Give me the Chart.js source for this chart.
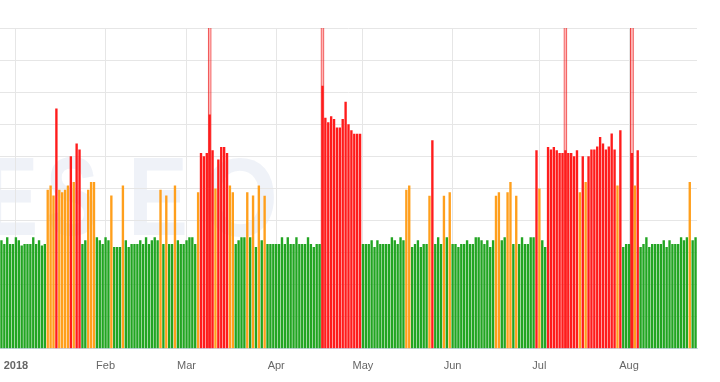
<!DOCTYPE html>
<html>
<head>
<meta charset="utf-8">
<script src="https://cdn.jsdelivr.net/npm/chart.js@4.4.0/dist/chart.umd.min.js"></script>
<style>
  html, body { margin: 0; padding: 0; background: #fff; }
</style>
</head>
<body>
<canvas id="chart" width="720" height="382"></canvas>
<script>
const GREEN = "#22a522";
const ORANGE = "#ff9f1c";
const RED = "#ff1c1c";

// first day shown, one bar per day
const START_DAY = Date.UTC(2017, 11, 27);
const MONTH_LABELS = ["2018", "Feb", "Mar", "Apr", "May", "Jun", "Jul", "Aug"];

// daily values
const dec2017 = [3.38, 3.27, 3.48, 3.27, 3.27];
const jan = [3.48, 3.38, 3.22, 3.27, 3.27, 3.27, 3.48, 3.27, 3.38, 3.22, 3.27,
  4.96, 5.09, 4.78, 7.49, 4.96, 4.88, 4.96, 5.09, 6.0, 5.2, 6.4, 6.21,
  3.27, 3.38, 4.96, 5.2, 5.2, 3.48, 3.38, 3.27];
const feb = [3.48, 3.38, 4.78, 3.17, 3.17, 3.17, 5.09, 3.38, 3.17, 3.27, 3.27, 3.27,
  3.38, 3.27, 3.48, 3.27, 3.38, 3.48, 3.38, 4.96, 3.27, 4.78, 3.27, 3.27, 5.09,
  3.38, 3.27, 3.27];
const mar = [3.38, 3.48, 3.48, 3.27, 4.88, 6.1, 6.0, 6.1, 7.3, 6.19, 5.0, 5.9, 6.29,
  6.29, 6.1, 5.09, 4.88, 3.27, 3.38, 3.48, 3.48, 4.88, 3.48, 4.78, 3.17, 5.09,
  3.38, 4.77, 3.27, 3.27, 3.27];
const apr = [3.27, 3.27, 3.48, 3.27, 3.48, 3.27, 3.27, 3.48, 3.27, 3.27, 3.27, 3.48,
  3.27, 3.17, 3.27, 3.27, 8.2, 7.2, 7.06, 7.25, 7.16, 6.9, 6.9, 7.16, 7.7, 7.0,
  6.81, 6.7, 6.7, 6.7];
const may = [3.27, 3.27, 3.27, 3.38, 3.17, 3.38, 3.27, 3.27, 3.27, 3.27, 3.48, 3.38,
  3.27, 3.48, 3.38, 4.96, 5.09, 3.17, 3.27, 3.38, 3.17, 3.27, 3.27, 4.77, 6.5,
  3.27, 3.48, 3.27, 4.77, 3.48, 4.88];
const jun = [3.27, 3.27, 3.17, 3.27, 3.27, 3.38, 3.27, 3.27, 3.48, 3.48, 3.38, 3.27,
  3.38, 3.17, 3.38, 4.77, 4.88, 3.38, 3.48, 4.88, 5.2, 3.27, 4.77, 3.27, 3.48,
  3.27, 3.27, 3.48, 3.48, 6.19];
const jul = [5.0, 3.38, 3.17, 6.29, 6.21, 6.29, 6.19, 6.1, 6.1, 6.19, 6.1, 6.1, 6.0,
  6.19, 4.88, 6.0, 5.2, 6.0, 6.21, 6.21, 6.31, 6.6, 6.4, 6.21, 6.31, 6.71, 6.21,
  5.09, 6.81, 3.17, 3.27];
const aug = [3.27, 6.1, 5.09, 6.19, 3.17, 3.27, 3.48, 3.17, 3.27, 3.27, 3.27, 3.27,
  3.38, 3.17, 3.38, 3.27, 3.27, 3.27, 3.48, 3.38, 3.48, 5.2, 3.38, 3.48];

// days whose value runs off the top of the chart
const OVERFLOW_DAYS = ["2018-03-09", "2018-04-17", "2018-07-10", "2018-08-02"];
const OVERFLOW_VALUE = 11;

const values = [].concat(dec2017, jan, feb, mar, apr, may, jun, jul, aug);
const days = values.map((v, i) => new Date(START_DAY + i * 86400000).toISOString().slice(0, 10));
const overflow = days.map((d) => OVERFLOW_DAYS.includes(d) ? OVERFLOW_VALUE : null);

function colorFor(v) {
  if (v < 4) return GREEN;
  if (v < 5.5) return ORANGE;
  return RED;
}

function isMonthStart(i) {
  return days[i] !== undefined && days[i].endsWith("-01");
}

// faint logo letters behind the bars
const watermark = {
  id: "watermark",
  beforeDraw(chart) {
    const ctx = chart.ctx;
    ctx.save();
    ctx.fillStyle = "rgba(215, 222, 238, 0.4)";
    ctx.font = "bold 112px 'Liberation Sans', Arial, sans-serif";
    ctx.textBaseline = "alphabetic";
    ctx.fillText("E", -16, 235, 54);
    ctx.fillText("S", 46, 235, 52);
    ctx.fillText("E", 128, 235, 60);
    ctx.fillText("O", 202, 236, 76);
    ctx.restore();
  },
};

new Chart(document.getElementById("chart"), {
  type: "bar",
  data: {
    labels: days,
    datasets: [
      {
        data: values,
        backgroundColor: values.map(colorFor),
        borderWidth: 0,
        order: 1,
      },
      {
        data: overflow,
        backgroundColor: "rgba(255, 60, 60, 0.38)",
        borderColor: "rgba(235, 30, 30, 0.9)",
        borderWidth: 1,
        barPercentage: 1.3,
        order: 2,
      },
    ],
  },
  plugins: [watermark],
  options: {
    responsive: false,
    animation: false,
    layout: { padding: { left: 0, right: 23, top: 28, bottom: -2 } },
    plugins: { legend: { display: false }, tooltip: { enabled: false } },
    datasets: { bar: { grouped: false, barPercentage: 0.82, categoryPercentage: 1 } },
    scales: {
      x: {
        grid: {
          offset: false,
          drawTicks: false,
          color: (ctx) => isMonthStart(ctx.index) ? "#e6e6e6" : "rgba(0,0,0,0)",
        },
        border: { display: true, color: "#ccd6eb" },
        ticks: {
          autoSkip: false,
          maxRotation: 0,
          padding: 11,
          color: "#666666",
          font: (ctx) => ({
            family: "'Liberation Sans', Arial, sans-serif",
            size: 11,
            weight: isMonthStart(ctx.index) && days[ctx.index].slice(5, 7) === "01" ? "bold" : "normal",
          }),
          callback: (value, index) => isMonthStart(index) ? MONTH_LABELS[+days[index].slice(5, 7) - 1] : "",
        },
        afterFit: (axis) => { axis.paddingLeft = 0; axis.paddingRight = 0; },
      },
      y: {
        min: 0,
        max: 10,
        ticks: { display: false, stepSize: 1 },
        grid: { color: "#e6e6e6", drawTicks: false },
        border: { display: false },
        afterFit: (axis) => { axis.width = 0; },
      },
    },
  },
});
</script>
</body>
</html>
